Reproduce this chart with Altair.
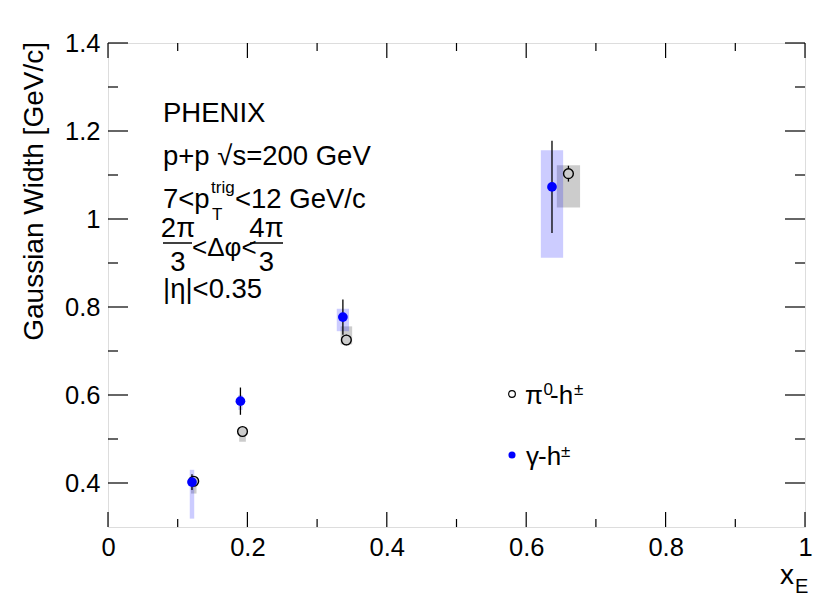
import altair as alt
import pandas as pd

# ---------------- data ----------------
gamma_x = [0.1205, 0.190, 0.337, 0.637]
gamma_y = [0.402, 0.586, 0.777, 1.073]
gamma_stat = [0.018, 0.031, 0.040, 0.105]
gamma_sys_lo = [0.319, 0.566, 0.745, 0.912]
gamma_sys_hi = [0.430, 0.600, 0.796, 1.156]
gamma_sys_dx = [0.0032, 0.003, 0.0088, 0.016]

pi0_x = [0.123, 0.193, 0.342, 0.6606]
pi0_y = [0.404, 0.517, 0.725, 1.103]
pi0_stat = [0.010, 0.010, 0.012, 0.018]
pi0_sys_lo = [0.376, 0.494, 0.715, 1.026]
pi0_sys_hi = [0.416, 0.527, 0.756, 1.122]
pi0_sys_dx = [0.004, 0.0048, 0.0083, 0.0167]

x_major = [0, 0.2, 0.4, 0.6, 0.8, 1.0]
x_minor = [0.1, 0.3, 0.5, 0.7, 0.9]
y_major = [0.4, 0.6, 0.8, 1.0, 1.2, 1.4]
y_minor = [0.5, 0.7, 0.9, 1.1, 1.3]

W, H = 697, 484
FONT = "Liberation Sans"


def series_df(x, y, stat, lo, hi, dx):
    return pd.DataFrame({
        "x": x, "y": y,
        "elo": [a - b for a, b in zip(y, stat)],
        "ehi": [a + b for a, b in zip(y, stat)],
        "lo": lo, "hi": hi,
        "xlo": [a - b for a, b in zip(x, dx)],
        "xhi": [a + b for a, b in zip(x, dx)],
    })


gdf = series_df(gamma_x, gamma_y, gamma_stat, gamma_sys_lo, gamma_sys_hi, gamma_sys_dx)
pdf = series_df(pi0_x, pi0_y, pi0_stat, pi0_sys_lo, pi0_sys_hi, pi0_sys_dx)

xs = alt.Scale(domain=[0, 1], nice=False, zero=False)
ys = alt.Scale(domain=[0.3, 1.4], nice=False, zero=False)

xaxis = alt.Axis(values=x_major, format="~g", ticks=False, domain=False, grid=False,
                 labelFontSize=25.5, labelFont=FONT, labelColor="black", labelPadding=8,
                 labelFlush=False, labelOverlap=False, labelBound=False, title=None)
yaxis = alt.Axis(values=y_major, format="~g", ticks=False, domain=False, grid=False,
                 labelFontSize=25.5, labelFont=FONT, labelColor="black", labelPadding=8,
                 labelFlush=False, labelOverlap=False, labelBound=False, title=None)


def X(f):
    return alt.X(f, type="quantitative", scale=xs, axis=xaxis)


def Y(f):
    return alt.Y(f, type="quantitative", scale=ys, axis=yaxis)


# systematic boxes
gray_box = alt.Chart(pdf).mark_rect(color="black", opacity=0.2).encode(
    x=X("xlo"), x2="xhi:Q", y=Y("lo"), y2="hi:Q")
blue_box = alt.Chart(gdf).mark_rect(color="#0000ff", opacity=0.2).encode(
    x=X("xlo"), x2="xhi:Q", y=Y("lo"), y2="hi:Q")

# statistical error bars
pi0_err = alt.Chart(pdf).mark_rule(color="black", strokeWidth=1.3).encode(
    x=X("x"), y=Y("elo"), y2="ehi:Q")
gam_err = alt.Chart(gdf).mark_rule(color="black", strokeWidth=1.3).encode(
    x=X("x"), y=Y("elo"), y2="ehi:Q")

# markers
pi0_pts = alt.Chart(pdf).mark_point(shape="circle", filled=True, fill="#cccccc",
                                    stroke="black", strokeWidth=1.4, size=95,
                                    opacity=1, fillOpacity=1).encode(x=X("x"), y=Y("y"))
gam_pts = alt.Chart(gdf).mark_circle(color="#0000ff", size=95, opacity=1).encode(
    x=X("x"), y=Y("y"))


# inward ticks on all four sides
def xticks(vals, length, top):
    y1 = 0 if top else H
    y2 = length if top else H - length
    return alt.Chart(pd.DataFrame({"v": vals})).mark_rule(color="black", strokeWidth=1.2).encode(
        x=X("v"), y=alt.value(y1), y2=alt.value(y2))


def yticks(vals, length, right):
    x1 = W if right else 0
    x2 = W - length if right else length
    return alt.Chart(pd.DataFrame({"v": vals})).mark_rule(color="black", strokeWidth=1.2).encode(
        y=Y("v"), x=alt.value(x1), x2=alt.value(x2))


tick_layers = [
    xticks(x_major, 15, False), xticks(x_minor, 8, False),
    xticks(x_major, 15, True), xticks(x_minor, 8, True),
    yticks(y_major, 20, False), yticks(y_minor, 10, False),
    yticks(y_major, 20, True), yticks(y_minor, 10, True),
]


def txt(s, x, y, size=27.5, align="left", angle=None):
    kw = dict(align=align, baseline="alphabetic", fontSize=size, font=FONT, color="black")
    if angle is not None:
        kw["angle"] = angle
    return alt.Chart(pd.DataFrame({"t": [s]})).mark_text(**kw).encode(
        x=alt.value(x), y=alt.value(y), text="t:N")


def bar(x1, x2, y):
    return alt.Chart(pd.DataFrame({"t": [0]})).mark_rule(color="black", strokeWidth=1.5).encode(
        x=alt.value(x1), x2=alt.value(x2), y=alt.value(y))


texts = [
    txt("PHENIX", 55, 78.5),
    txt("p+p  \u221as=200 GeV", 55, 121.5),
    txt("7<p", 55, 165),
    txt("trig", 103, 150, size=17),
    txt("T", 104, 177, size=17),
    txt("<12 GeV/c", 127, 165),
    txt("2\u03c0", 70, 194, align="center"),
    bar(55, 84, 200),
    txt("3", 70, 228, align="center"),
    txt("<\u0394\u03c6<", 84, 213, size=26),
    txt("4\u03c0", 158.5, 194, align="center"),
    bar(142, 175, 200),
    txt("3", 158.5, 228, align="center"),
    txt("|\u03b7|<0.35", 55, 255),
    # legend
    txt("\u03c0", 417, 360.5, size=26),
    txt("0", 435.5, 352, size=17),
    txt("-h", 442, 360.5, size=26),
    txt("\u00b1", 466, 352, size=17),
    txt("\u03b3", 418, 422, size=26),
    txt("-h", 430, 422, size=26),
    txt("\u00b1", 453, 414, size=17),
    # axis titles
    txt("Gaussian Width [GeV/c]", -65.5, -1, size=28, align="right", angle=270),
    txt("x", 672, 541, size=28),
    txt("E", 687, 550, size=20),
]

leg_pi0 = alt.Chart(pd.DataFrame({"t": [0]})).mark_point(
    shape="circle", filled=False, color="black", strokeWidth=1.2, size=45, opacity=1).encode(
    x=alt.value(404), y=alt.value(351))
leg_gam = alt.Chart(pd.DataFrame({"t": [0]})).mark_circle(
    color="#0000ff", size=50, opacity=1).encode(x=alt.value(404), y=alt.value(412))

chart = alt.layer(
    gray_box, blue_box, *tick_layers, pi0_err, pi0_pts, gam_err, gam_pts,
    leg_pi0, leg_gam, *texts
).properties(
    width=W, height=H,
    autosize="none",
    padding={"left": 100, "top": 35, "right": 17, "bottom": 71},
).configure_view(stroke="black", strokeWidth=1.3).configure(background="white")

chart.save("out.html", embed_options={"renderer": "svg", "actions": False})
